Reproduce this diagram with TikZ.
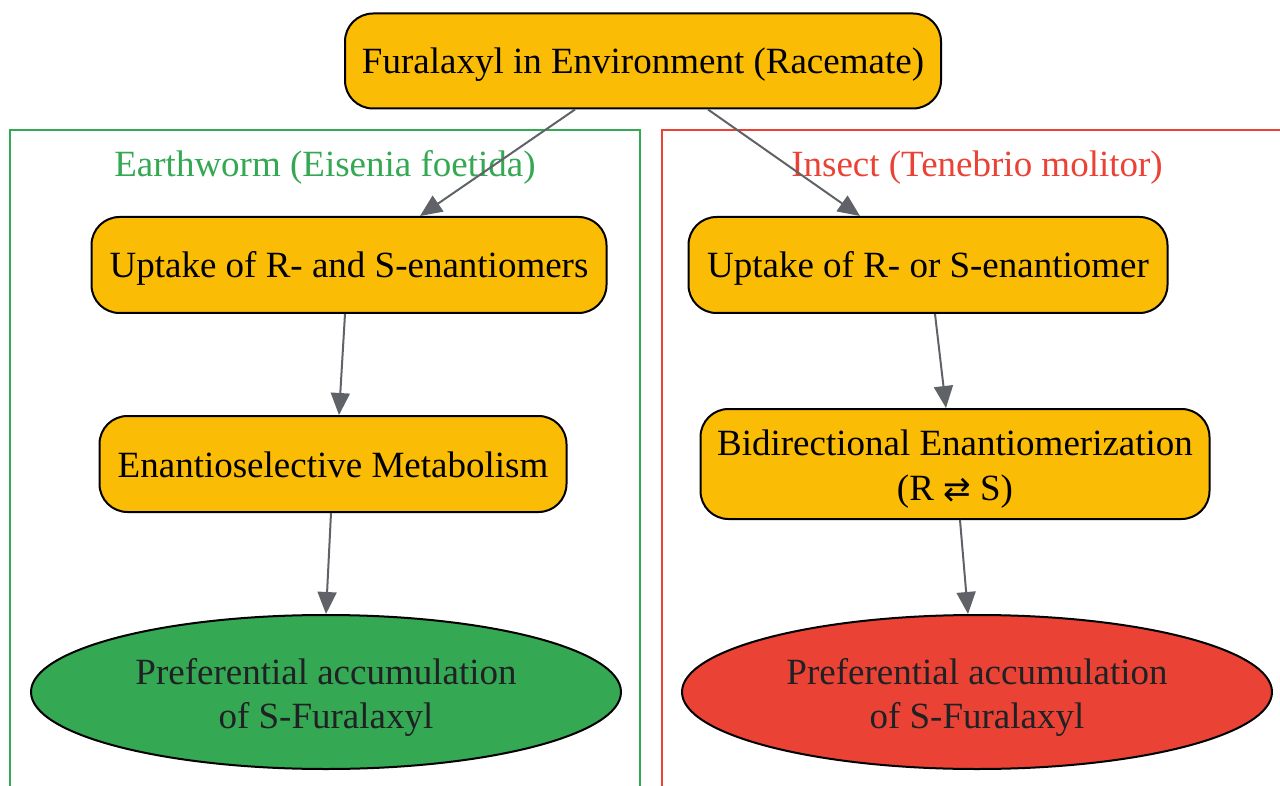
\documentclass[tikz,border=0pt]{standalone}
\usepackage{fontspec}
\setmainfont{Liberation Serif}
\newfontfamily\symfont{DejaVu Sans}
\usetikzlibrary{shapes.geometric,arrows.meta}
\definecolor{stepfill}{HTML}{FBBC05}
\definecolor{wormgreen}{HTML}{34A853}
\definecolor{bugred}{HTML}{EA4335}
\definecolor{edgegray}{HTML}{5F6368}
\definecolor{inkdark}{HTML}{202124}
\tikzset{
    stepbox/.style={draw=black, line width=2pt, fill=stepfill, rounded corners=28pt,
        align=center, inner sep=0pt, font=\fontsize{37}{45}\selectfont,
        text height=26pt, text depth=0pt},
    endblob/.style={draw=black, line width=2pt, ellipse, align=center, inner sep=0pt,
        text=inkdark, font=\fontsize{37}{44}\selectfont},
    twolines/.style={text height=#1, text depth=0pt},
    flow/.style={draw=edgegray, line width=2pt, -{Triangle[length=22pt, width=19pt]}},
    cluster/.style={line width=2pt},
    clusterlabel/.style={font=\fontsize{37}{44}\selectfont, text height=24pt, text depth=0pt}
}
\begin{document}
\begin{tikzpicture}[x=1pt, y=-1pt]
    \useasboundingbox (0,0) rectangle (1280,786);
    % clusters
    \draw[cluster, wormgreen] (10,800) -- (10,130) -- (640,130) -- (640,800);
    \draw[cluster, bugred] (662,800) -- (662,130) -- (1295,130);
    \node[clusterlabel, text=wormgreen] (wormlbl) at (325,165) {Earthworm (Eisenia foetida)};
    \node[clusterlabel, text=bugred] (buglbl) at (977,165) {Insect (Tenebrio molitor)};
    % nodes
    \node[stepbox, minimum width=596pt, minimum height=95pt] (env) at (643,61)
        {Furalaxyl in Environment (Racemate)};
    \node[stepbox, minimum width=515pt, minimum height=96pt] (wormup) at (349,265)
        {Uptake of R- and S-enantiomers};
    \node[stepbox, minimum width=467pt, minimum height=96pt] (wormmet) at (333,464)
        {Enantioselective Metabolism};
    \node[endblob, twolines=72pt, fill=wormgreen, minimum width=590pt, minimum height=154pt] (wormend) at (326,692)
        {Preferential accumulation\\of S-Furalaxyl};
    \node[stepbox, minimum width=479pt, minimum height=96pt] (bugup) at (928,265)
        {Uptake of R- or S-enantiomer};
    \node[stepbox, twolines=73pt, minimum width=509pt, minimum height=110pt] (bugenan) at (955,464)
        {Bidirectional Enantiomerization\\(R {\symfont\fontsize{33}{45}\selectfont ⇄} S)};
    \node[endblob, twolines=72pt, fill=bugred, minimum width=590pt, minimum height=154pt] (bugend) at (977,692)
        {Preferential accumulation\\of S-Furalaxyl};
    % edges
    \draw[flow] ([xshift=-68pt]env.south) -- ([xshift=71pt]wormup.north);
    \draw[flow] ([xshift=65pt]env.south) -- ([xshift=-68pt]bugup.north);
    \draw[flow] ([xshift=-4pt]wormup.south) -- ([xshift=6pt]wormmet.north);
    \draw[flow] ([xshift=-2pt]wormmet.south) -- (wormend.north);
    \draw[flow] ([xshift=7pt]bugup.south) -- ([xshift=-9pt]bugenan.north);
    \draw[flow] ([xshift=5pt]bugenan.south) -- ([xshift=-9pt]bugend.north);
\end{tikzpicture}
\end{document}
